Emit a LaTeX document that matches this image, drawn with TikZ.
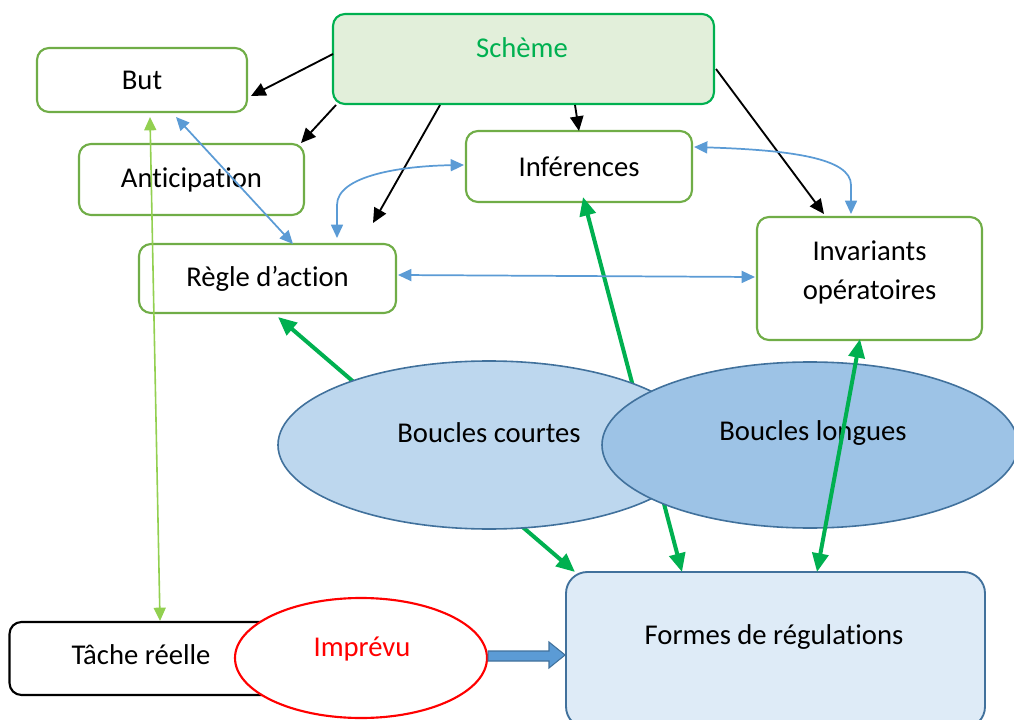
\documentclass[tikz,border=0pt]{standalone}
\usepackage{fontspec}
\setmainfont{Carlito}[Ligatures=NoCommon]
\usetikzlibrary{arrows.meta,shapes.geometric}
\definecolor{boxgreen}{HTML}{70AD47}
\definecolor{schemefill}{HTML}{E2EFDA}
\definecolor{brightgreen}{HTML}{00B050}
\definecolor{lightgreen}{HTML}{92D050}
\definecolor{arrowblue}{HTML}{5B9BD5}
\definecolor{ellborder}{HTML}{41719C}
\definecolor{ellfillA}{HTML}{BDD7EE}
\definecolor{ellfillB}{HTML}{9DC3E6}
\definecolor{formfill}{HTML}{DEEBF7}
\tikzset{
  gbox/.style={draw=boxgreen, line width=1.6pt, rounded corners=9pt, fill=white, inner sep=0pt},
  blk/.style={draw=black, line width=1.4pt, -{Triangle[length=11pt,width=10pt]}},
  blu/.style={draw=arrowblue, line width=1.3pt, {Triangle[length=10pt,width=9pt]}-{Triangle[length=10pt,width=9pt]}},
  lgr/.style={draw=lightgreen, line width=1.2pt, {Triangle[length=10pt,width=9pt]}-{Triangle[length=10pt,width=9pt]}},
  thk/.style={draw=brightgreen, line width=3pt, {Triangle[length=14pt,width=12pt]}-{Triangle[length=14pt,width=12pt]}},
  ell/.style={shape=ellipse, draw=ellborder, line width=1.2pt, inner sep=0pt},
  txt/.style={inner sep=0pt}
}
\begin{document}
\begin{tikzpicture}[x=0.75pt,y=-0.75pt,font=\fontsize{21.5}{29}\selectfont]
\useasboundingbox (0,0) rectangle (1014,720);

% boxes
\node[gbox, minimum width=157.5pt, minimum height=48pt] (but) at (142,80) {But};
\node[gbox, draw=brightgreen, fill=schemefill, minimum width=285.75pt, minimum height=67.5pt] (scheme) at (523.5,59) {};
\node[txt, text=brightgreen] (schemetxt) at (522,48) {Schème};
\node[gbox, minimum width=168.75pt, minimum height=53.25pt] (antic) at (191.5,179.5) {Anticipation};
\node[gbox, minimum width=169.5pt, minimum height=53.25pt] (inf) at (579,166.5) {Inférences};
\node[gbox, minimum width=192.75pt, minimum height=51.75pt] (regle) at (267.5,278.5) {Règle d’action};
\node[gbox, minimum width=168.75pt, minimum height=92.25pt] (inv) at (869.5,278.5) {};
\node[txt, align=center] (invtxt) at (869.5,272.5) {Invariants\\opératoires};

\node[draw=ellborder, line width=1.4pt, fill=formfill, rounded corners=16pt, minimum width=314.25pt, minimum height=117pt, inner sep=0pt] (formes) at (775.5,650) {};
\node[txt] (formestxt) at (774,637) {Formes de régulations};

\node[draw=black, line width=1.6pt, rounded corners=9pt, fill=white, minimum width=198.75pt, minimum height=54.75pt, inner sep=0pt] (tache) at (142,658.5) {};
\node[txt] (tachetxt) at (141,655) {Tâche réelle};

% black arrows from Scheme
\coordinate (s1) at (333,54);
\coordinate (b1) at (251,96);
\coordinate (s2) at (336,105);
\coordinate (a1) at (301,143);
\coordinate (s3) at (440,105);
\coordinate (r0) at (373,223);
\coordinate (s4) at (575,105);
\coordinate (i0) at (579,131);
\coordinate (s5) at (716,69);
\coordinate (v0) at (824,214);
\draw[blk] (s1) -- (b1);
\draw[blk] (s2) -- (a1);
\draw[blk] (s3) -- (r0);
\draw[blk] (s4) -- (i0);
\draw[blk] (s5) -- (v0);

% green thick arrows behind ellipses
\coordinate (rb) at (278,317);
\coordinate (fr) at (575,572);
\coordinate (ib) at (583,197);
\coordinate (fi) at (682,572);
\draw[thk] (rb) -- (fr);
\draw[thk] (ib) -- (fi);

% ellipses
\node[ell, fill=ellfillA, minimum width=316.5pt, minimum height=126pt] (bc) at (489,445) {};
\node[txt] (bctxt) at (489,433) {Boucles courtes};
\node[ell, fill=ellfillB, minimum width=312pt, minimum height=124.5pt] (bl) at (810,445) {};
\node[txt] (bltxt) at (813,433) {Boucles longues};

% green thick on top
\coordinate (vb) at (860,339);
\coordinate (fv) at (817,572);
\draw[thk] (vb) -- (fv);

% blue arrows
\coordinate (bb) at (176,117);
\coordinate (rt) at (293,244);
\draw[blu] (bb) -- (rt);
\coordinate (r1) at (337,238);
\coordinate (i1) at (464,165);
\draw[blu] (r1) -- (337,205) .. controls (337,176) and (400,166) .. (i1);
\coordinate (i2) at (694,147);
\coordinate (v2) at (851,214);
\draw[blu] (i2) .. controls (790,150) and (851,158) .. (851,185) -- (v2);
\coordinate (re) at (398,275);
\coordinate (ve) at (755,277);
\draw[blu] (re) -- (ve);

% light green But <-> Tache
\coordinate (bb2) at (150,117);
\coordinate (tt) at (160,621);
\draw[lgr] (bb2) -- (tt);

% Imprevu
\node[ell, draw=red, fill=white, line width=1.6pt, minimum width=189pt, minimum height=90pt] (imp) at (361,658) {};
\node[txt, text=red] (imptxt) at (362,649) {Imprévu};

% block arrow
\draw[draw=ellborder, fill=arrowblue, line width=0.8pt]
  (imp.east |- 0,651) -- (549,651) -- (549,642) -- (formes.west |- 0,655) -- (549,668) -- (549,661) -- (imp.east |- 0,661) -- cycle;

\end{tikzpicture}
\end{document}
